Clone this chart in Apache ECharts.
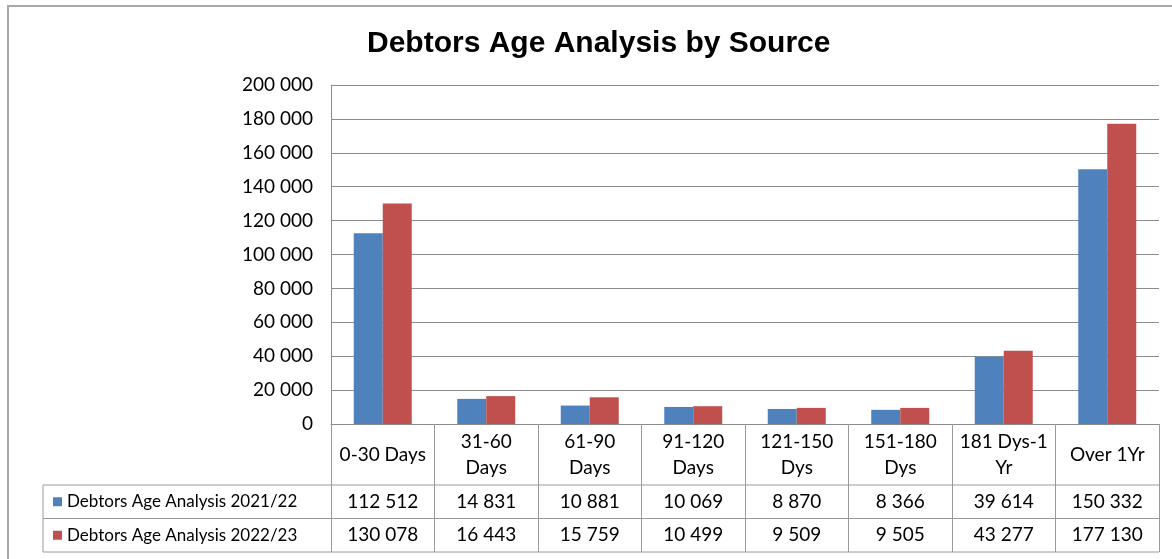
<!DOCTYPE html>
<html>
<head>
<meta charset="utf-8">
<script src="https://cdn.jsdelivr.net/npm/echarts@6/dist/echarts.min.js"></script>
<style>
html,body{margin:0;padding:0;background:#fff;}
#chart{width:1172px;height:559px;}
</style>
</head>
<body>
<div id="chart"></div>
<script>
// ---- data ----
var categories = ['0-30 Days', '31-60\nDays', '61-90\nDays', '91-120\nDays', '121-150\nDys', '151-180\nDys', '181 Dys-1\nYr', 'Over 1Yr'];
var seriesNames = ['Debtors Age Analysis 2021/22', 'Debtors Age Analysis 2022/23'];
var values2122 = [112512, 14831, 10881, 10069, 8870, 8366, 39614, 150332];
var values2223 = [130078, 16443, 15759, 10499, 9509, 9505, 43277, 177130];
var yTicks = { min: 0, max: 200000, interval: 20000 };

// ---- layout ----
var W = 1172, H = 559;
var GRID_LEFT = 331, GRID_RIGHT_X = 1159, GRID_TOP = 85, AXIS_Y = 424;
var HEADER_H = 61, ROW_H = 33.5, TABLE_LEFT = 43;
var row1Top = AXIS_Y + HEADER_H, row2Top = row1Top + ROW_H, tableBottom = row2Top + ROW_H;
var FONT = 'Lato';
var tableColor = '#9a9a9a';
var colors = ['#4F81BD', '#C0504D'];

function fmt(n) { return String(n).replace(/\B(?=(\d{3})+(?!\d))/g, ' '); }

var chart = echarts.init(document.getElementById('chart'), null, { renderer: 'canvas' });

var hLines = [row1Top, row2Top, tableBottom].map(function (y) {
  return { type: 'line', shape: { x1: TABLE_LEFT, y1: y, x2: GRID_RIGHT_X, y2: y }, style: { stroke: tableColor, lineWidth: 1 } };
});

var option = {
  animation: false,
  backgroundColor: '#fff',
  color: colors,
  title: {
    text: 'Debtors Age Analysis by Source',
    left: 367,
    top: 29,
    padding: 0,
    textStyle: { fontFamily: 'Liberation Sans', fontWeight: 'bold', fontSize: 30, color: '#000' }
  },
  legend: {
    orient: 'vertical',
    left: 53,
    top: row1Top + ROW_H / 2 - 10,
    padding: 0,
    itemGap: ROW_H - 20,
    itemWidth: 9,
    itemHeight: 9,
    icon: 'rect',
    selectedMode: false,
    textStyle: { fontFamily: FONT, fontSize: 17, color: '#000', lineHeight: 20 },
    data: seriesNames
  },
  grid: { left: GRID_LEFT, right: W - GRID_RIGHT_X, top: GRID_TOP, bottom: H - AXIS_Y },
  xAxis: [
    {
      type: 'category', data: categories, position: 'bottom',
      axisLine: { show: true, lineStyle: { color: '#8c8c8c', width: 1 } },
      axisTick: { show: true, interval: 0, length: tableBottom - AXIS_Y, lineStyle: { color: tableColor, width: 1 } },
      axisLabel: { interval: 0, margin: HEADER_H / 2, verticalAlign: 'middle', lineHeight: 26, fontFamily: FONT, fontSize: 19, color: '#000' }
    },
    {
      type: 'category', data: categories, position: 'bottom',
      axisLine: { show: false }, axisTick: { show: false },
      axisLabel: { interval: 0, margin: HEADER_H + ROW_H / 2, verticalAlign: 'middle', fontFamily: FONT, fontSize: 19, color: '#000',
        formatter: function (v, i) { return fmt(values2122[i]); } }
    },
    {
      type: 'category', data: categories, position: 'bottom',
      axisLine: { show: false }, axisTick: { show: false },
      axisLabel: { interval: 0, margin: HEADER_H + ROW_H * 1.5, verticalAlign: 'middle', fontFamily: FONT, fontSize: 19, color: '#000',
        formatter: function (v, i) { return fmt(values2223[i]); } }
    }
  ],
  yAxis: {
    type: 'value', min: yTicks.min, max: yTicks.max, interval: yTicks.interval,
    axisLine: { show: true, lineStyle: { color: '#8c8c8c', width: 1 } },
    axisTick: { show: false },
    splitLine: { lineStyle: { color: '#8c8c8c', width: 1 } },
    axisLabel: { margin: 18, fontFamily: FONT, fontSize: 19, color: '#000', formatter: function (v) { return fmt(v); } }
  },
  series: [
    { name: seriesNames[0], type: 'bar', data: values2122, barWidth: 29, barGap: '0%', xAxisIndex: 0 },
    { name: seriesNames[1], type: 'bar', data: values2223, barWidth: 29, barGap: '0%', xAxisIndex: 0 }
  ],
  graphic: [
    { type: 'rect', shape: { x: 8, y: 6, width: 1300, height: 700 }, style: { fill: null, stroke: '#a8a8a8', lineWidth: 2 }, silent: true },
    { type: 'line', shape: { x1: TABLE_LEFT, y1: row1Top, x2: TABLE_LEFT, y2: tableBottom }, style: { stroke: tableColor, lineWidth: 1 } }
  ].concat(hLines)
};
chart.setOption(option);
</script>
</body>
</html>
